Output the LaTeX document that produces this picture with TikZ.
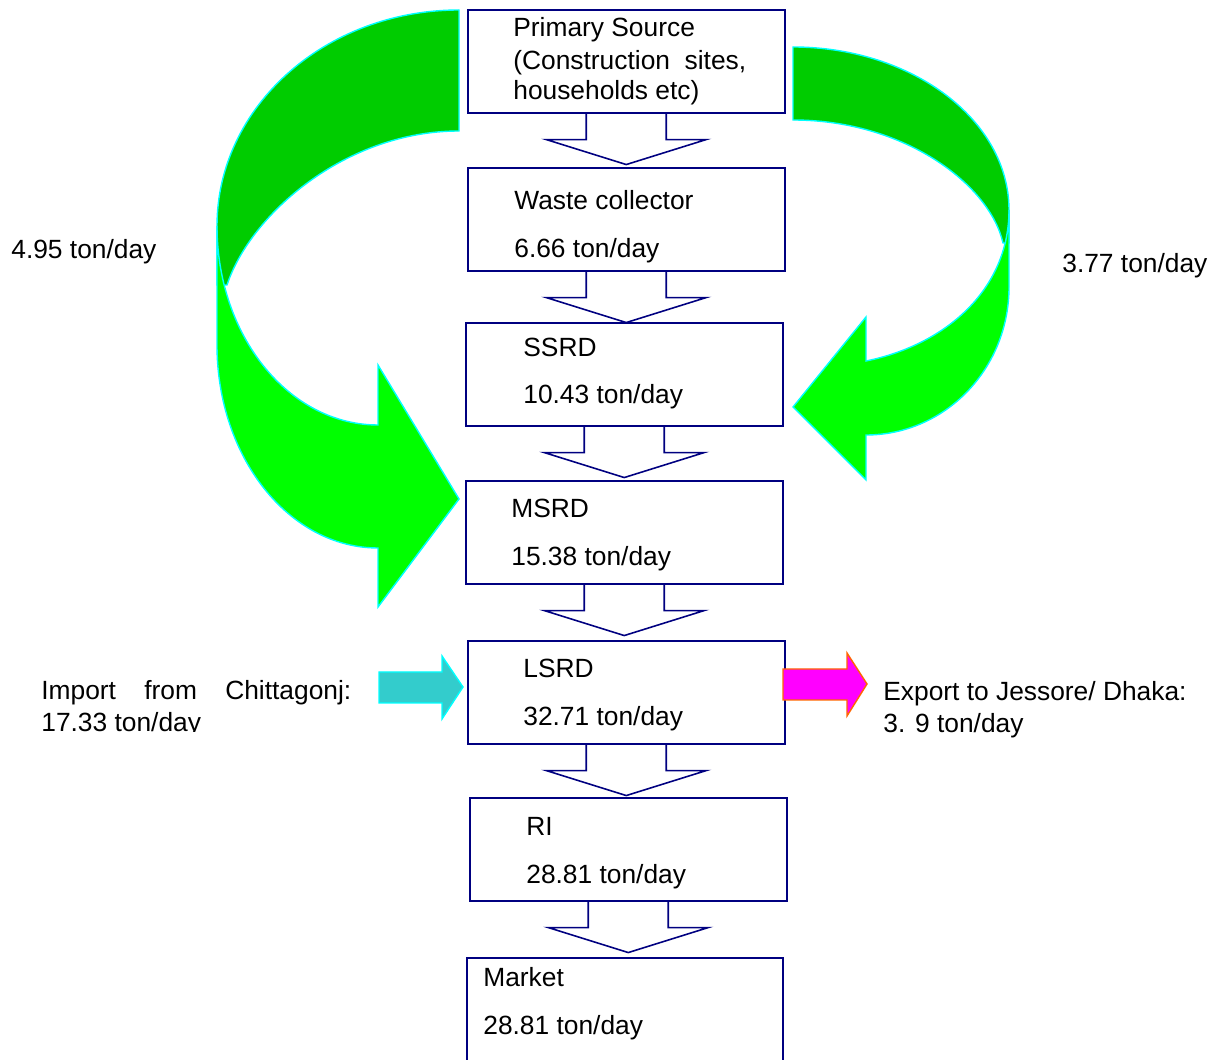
\documentclass[tikz,border=0pt]{standalone}
\usepackage{fontspec}
\setmainfont{Liberation Sans}
\usetikzlibrary{calc}

\definecolor{boxblue}{RGB}{0,0,128}
\definecolor{darkgr}{RGB}{0,204,0}
\definecolor{lightgr}{RGB}{0,255,0}
\definecolor{rimcyan}{RGB}{0,255,255}
\definecolor{impteal}{RGB}{51,204,204}
\definecolor{expfill}{RGB}{255,0,255}
\definecolor{expedge}{RGB}{255,102,0}

\begin{document}
\begin{tikzpicture}[x=0.02cm,y=-0.02cm,
  box/.style={draw=boxblue,line width=0.9pt,minimum width=6.34cm,minimum height=2.06cm,inner sep=0,anchor=north west},
  txt/.style={font=\fontsize{15}{18}\selectfont,inner sep=0,anchor=base west},
  flow/.style={draw=boxblue,line width=0.9pt},
  backface/.style={fill=darkgr,draw=rimcyan,line width=0.8pt},
  frontface/.style={fill=lightgr,draw=rimcyan,line width=0.8pt}]
\useasboundingbox (0,0) rectangle (1215,1060);
\clip (0,0) rectangle (1215,1060);

% left curved arrow
\filldraw[backface] (459,10) .. controls (325,10) and (217,107) .. (217,226) -- (217,285) -- (227,285)
  .. controls (250,215) and (345,131) .. (459,131) -- cycle;
\filldraw[frontface] (217,226) -- (217,345) .. controls (217,457) and (289,548) .. (378,548) -- (378,607)
  -- (459,499) -- (378,365) -- (378,425) .. controls (289,425) and (217,336) .. (217,226) -- cycle;

% right curved arrow
\filldraw[backface] (793,47) .. controls (912,47) and (1009,120) .. (1009,210) -- (1009,243) -- (1003,243)
  .. controls (990,185) and (905,120) .. (793,120) -- cycle;
\filldraw[frontface] (1009,210) -- (1009,287) .. controls (1009,369) and (945,435) .. (866,435) -- (866,480)
  -- (793,407) -- (866,317) -- (866,361) .. controls (945,345) and (1009,290) .. (1009,210) -- cycle;

% boxes
\node[box] (prim) at (467,9) {};
\node[box] (coll) at (467,167) {};
\node[box] (ssrd) at (465,322) {};
\node[box] (msrd) at (465,480) {};
\node[box] (lsrd) at (467,640) {};
\node[box] (ri) at (469,797) {};
\node[box,minimum width=6.32cm,minimum height=2.4cm] (mkt) at (466,957) {};

\foreach \a in {prim,coll,ssrd,msrd,lsrd,ri}
  \draw[flow] ($(\a.south)+(-40,0)$) -- ++(0,26) -- ++(-40,0) -- ++(80,25) -- ++(80,-25) -- ++(-40,0) -- ++(0,-26);

% texts in boxes
\node[txt] (primA) at (513,37) {Primary Source};
\node[txt] (primB) at (513,70) {(Construction~ sites,};
\node[txt] (primC) at (513,100) {households etc)};
\node[txt] (collA) at (514,210) {Waste collector};
\node[txt] (collB) at (514,258) {6.66 ton/day};
\node[txt] (ssrdA) at (523,357) {SSRD};
\node[txt] (ssrdB) at (523,404) {10.43 ton/day};
\node[txt] (msrdA) at (511,518) {MSRD};
\node[txt] (msrdB) at (511,566) {15.38 ton/day};
\node[txt] (lsrdA) at (523,678) {LSRD};
\node[txt] (lsrdB) at (523,726) {32.71 ton/day};
\node[txt] (riA) at (526,836) {RI};
\node[txt] (riB) at (526,884) {28.81 ton/day};
\node[txt] (mktA) at (483,987) {Market};
\node[txt] (mktB) at (483,1034) {28.81 ton/day};

% side labels
\node[txt] (leftval) at (11,259) {4.95 ton/day};
\node[txt] (rightval) at (1062,273) {3.77 ton/day};

% import and export
\filldraw[fill=impteal,draw=rimcyan,line width=0.8pt] (379,672) -- (442,672) -- (442,656) -- (463,687)
  -- (442,719) -- (442,703) -- (379,703) -- cycle;
\filldraw[fill=expfill,draw=expedge,line width=0.8pt] (783,669) -- (847,669) -- (847,653) -- (867,684)
  -- (847,716) -- (847,700) -- (783,700) -- cycle;
\node[txt] (impA) at (41,700) {\makebox[6.2cm][s]{Import from Chittagonj:}};
\begin{scope}
\clip (0,600) rectangle (400,732);
\node[txt] (impB) at (41,732) {17.33 ton/day};
\end{scope}
\node[txt] (expA) at (883,701) {Export to Jessore/ Dhaka:};
\node[txt] (expB) at (883,733) {3. 9 ton/day};
\end{tikzpicture}
\end{document}
